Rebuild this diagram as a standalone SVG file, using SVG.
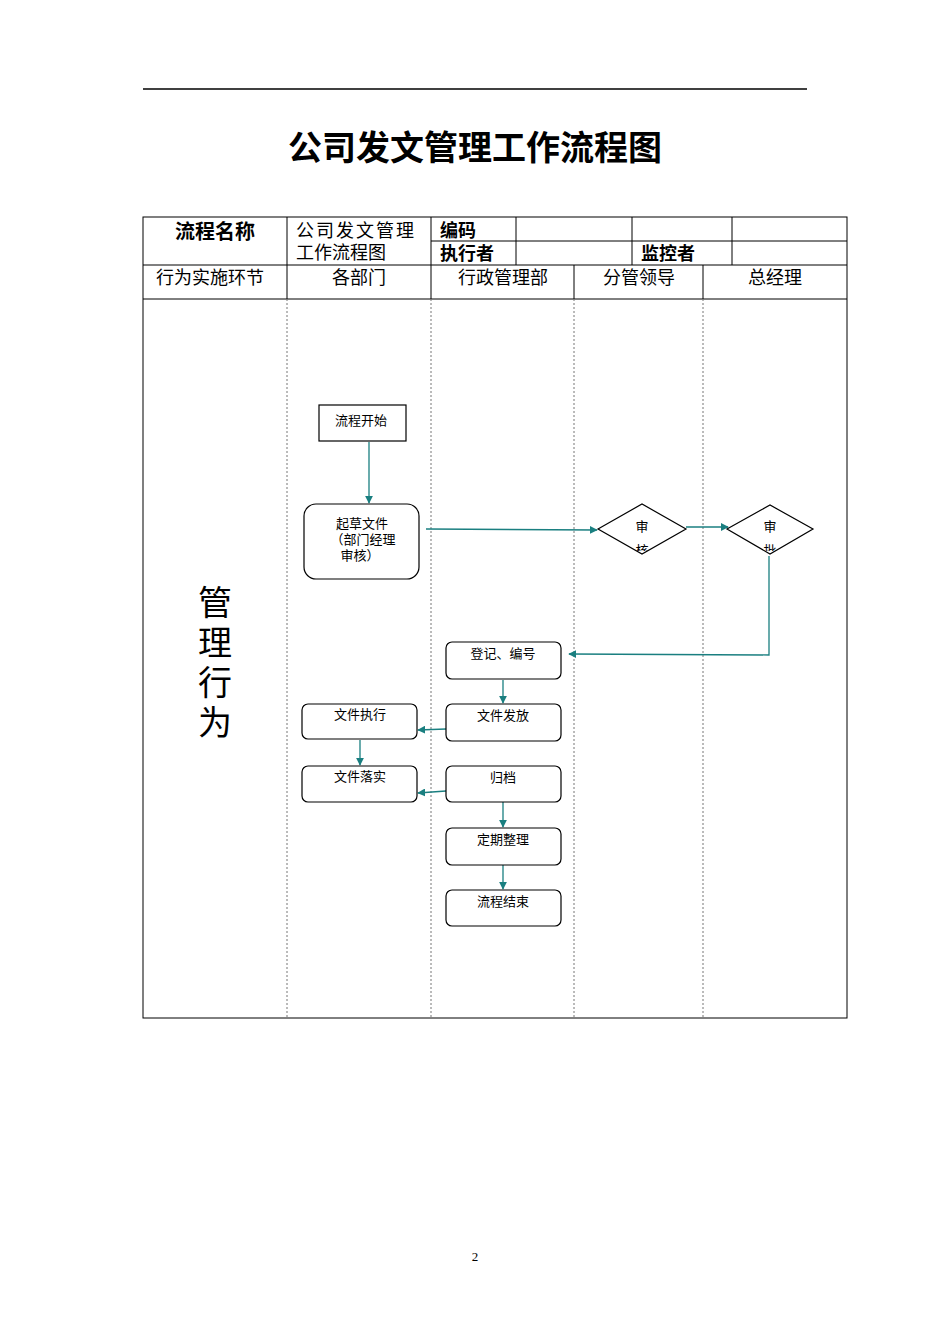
<svg xmlns="http://www.w3.org/2000/svg" width="950" height="1344" viewBox="0 0 950 1344">
<style>
text{font-family:"Liberation Serif","Noto Sans CJK SC",serif;fill:#000}
.b{font-family:"Liberation Sans","Noto Sans CJK SC",sans-serif;font-weight:bold;font-size:18px}
.h{font-size:18px}
.n{font-size:13px}
.box{fill:#fff;stroke:#000;stroke-width:1.2}
.g{stroke:#000;stroke-width:1;fill:none}
.d{stroke:#777;stroke-width:1;stroke-dasharray:2,2}
.c{stroke:#1a7f80;stroke-width:1.3;fill:none;marker-end:url(#a)}
</style>
<defs>
<marker id="a" viewBox="0 0 10 10" refX="9" refY="5" markerWidth="8" markerHeight="8" markerUnits="userSpaceOnUse" orient="auto"><path d="M0,0L10,5L0,10z" fill="#1a7f80"/></marker>
<clipPath id="k1"><rect x="620" y="510" width="50" height="41"/></clipPath>
<clipPath id="k2"><rect x="745" y="510" width="50" height="41"/></clipPath>
</defs>
<rect width="950" height="1344" fill="#fff"/>
<line x1="143" y1="89" x2="807" y2="89" stroke="#000" stroke-width="1.5"/>
<text x="475" y="160" text-anchor="middle" style="font-family:'Liberation Serif','Noto Sans CJK SC',serif;font-weight:bold;font-size:34px">公司发文管理工作流程图</text>
<g id="table">
<rect x="143" y="217" width="704" height="801" class="g"/>
<line x1="143" y1="265" x2="847" y2="265" class="g"/>
<line x1="143" y1="299" x2="847" y2="299" class="g"/>
<line x1="431" y1="241" x2="847" y2="241" class="g"/>
<line x1="287" y1="217" x2="287" y2="299" class="g"/>
<line x1="431" y1="217" x2="431" y2="299" class="g"/>
<line x1="516" y1="217" x2="516" y2="265" class="g"/>
<line x1="632" y1="217" x2="632" y2="265" class="g"/>
<line x1="732" y1="217" x2="732" y2="265" class="g"/>
<line x1="574" y1="265" x2="574" y2="299" class="g"/>
<line x1="703" y1="265" x2="703" y2="299" class="g"/>
<line x1="287" y1="299" x2="287" y2="1018" class="d"/>
<line x1="431" y1="299" x2="431" y2="1018" class="d"/>
<line x1="574" y1="299" x2="574" y2="1018" class="d"/>
<line x1="703" y1="299" x2="703" y2="1018" class="d"/>
<text x="215" y="239" text-anchor="middle" class="b" style="font-size:20px">流程名称</text>
<text x="296" y="237" class="b" style="font-weight:normal;letter-spacing:2px">公司发文管理</text>
<text x="296" y="259" class="b" style="font-weight:normal">工作流程图</text>
<text x="440" y="237" class="b">编码</text>
<text x="440" y="260" class="b">执行者</text>
<text x="641" y="260" class="b">监控者</text>
<text x="210" y="284" text-anchor="middle" class="h">行为实施环节</text>
<text x="359" y="284" text-anchor="middle" class="h">各部门</text>
<text x="503" y="284" text-anchor="middle" class="h">行政管理部</text>
<text x="639" y="284" text-anchor="middle" class="h">分管领导</text>
<text x="775" y="284" text-anchor="middle" class="h">总经理</text>
<text x="215" y="615" text-anchor="middle" style="font-size:34px">管</text>
<text x="215" y="655" text-anchor="middle" style="font-size:34px">理</text>
<text x="215" y="695" text-anchor="middle" style="font-size:34px">行</text>
<text x="215" y="735" text-anchor="middle" style="font-size:34px">为</text>
</g>
<g id="connectors">
<path class="c" d="M369,442V503"/>
<path class="c" d="M426,529L597,530"/>
<path class="c" d="M686,527L728,527"/>
<path class="c" d="M769,556V655L569,654"/>
<path class="c" d="M503,680V703"/>
<path class="c" d="M446,729L418,730"/>
<path class="c" d="M360,740V765"/>
<path class="c" d="M446,791L418,793"/>
<path class="c" d="M503,802V827"/>
<path class="c" d="M503,865V889"/>
</g>
<g id="start"><rect x="319" y="405" width="87" height="36" class="box"/><text x="361" y="425" text-anchor="middle" class="n">流程开始</text></g>
<g id="draft"><rect x="304" y="504" width="115" height="75" rx="12" class="box"/><text x="362" y="528" text-anchor="middle" class="n">起草文件</text><text x="363" y="544" text-anchor="middle" class="n">（部门经理</text><text x="360" y="560" text-anchor="middle" class="n">审核）</text></g>
<g id="review"><path d="M598,529L642,504L686,529L642,554z" class="box"/><text x="642" y="531" text-anchor="middle" class="n">审</text><text x="642" y="555" text-anchor="middle" class="n" clip-path="url(#k1)">核</text></g>
<g id="approve"><path d="M727,529L770,505L813,529L770,554z" class="box"/><text x="770" y="531" text-anchor="middle" class="n">审</text><text x="770" y="555" text-anchor="middle" class="n" clip-path="url(#k2)">批</text></g>
<g id="register"><rect x="446" y="642" width="115" height="37" rx="6" class="box"/><text x="503" y="658" text-anchor="middle" class="n">登记、编号</text></g>
<g id="issue"><rect x="446" y="704" width="115" height="37" rx="6" class="box"/><text x="503" y="720" text-anchor="middle" class="n">文件发放</text></g>
<g id="exec"><rect x="302" y="704" width="115" height="35" rx="6" class="box"/><text x="360" y="719" text-anchor="middle" class="n">文件执行</text></g>
<g id="impl"><rect x="302" y="766" width="115" height="36" rx="6" class="box"/><text x="360" y="781" text-anchor="middle" class="n">文件落实</text></g>
<g id="archive"><rect x="446" y="766" width="115" height="36" rx="6" class="box"/><text x="503" y="782" text-anchor="middle" class="n">归档</text></g>
<g id="periodic"><rect x="446" y="828" width="115" height="37" rx="6" class="box"/><text x="503" y="844" text-anchor="middle" class="n">定期整理</text></g>
<g id="end"><rect x="446" y="890" width="115" height="36" rx="6" class="box"/><text x="503" y="906" text-anchor="middle" class="n">流程结束</text></g>
<text x="475" y="1261" text-anchor="middle" style="font-size:13px">2</text>
</svg>
